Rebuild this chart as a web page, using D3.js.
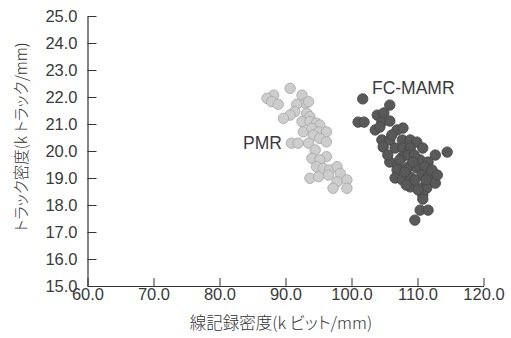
<!DOCTYPE html>
<html><head><meta charset="utf-8">
<script src="https://cdn.jsdelivr.net/npm/d3@7"></script>
<style>
html,body{margin:0;padding:0;background:#fff;}
svg text{fill:#333;}
.jp{font-family:"Noto Sans CJK JP",sans-serif;font-feature-settings:"palt";font-weight:300;}
.lat{font-family:"Liberation Sans",Arial,sans-serif;}
</style></head>
<body>
<svg id="chart" width="511" height="338"></svg>
<script>
// ---- data ----
const xTicks = [60, 70, 80, 90, 100, 110, 120];
const yTicks = [15, 16, 17, 18, 19, 20, 21, 22, 23, 24, 25];
const xTitle = "線記録密度(k ビット/mm)";
const yTitle = "トラック密度(k トラック/mm)";
const seriesNames = ["PMR", "FC-MAMR"];

const pmrX = [90.7, 88.2, 87.2, 87.9, 88.9, 92.5, 93.0, 93.5, 91.7, 91.4, 90.7, 89.7, 93.2, 93.7, 92.5, 93.7, 94.7, 95.2, 92.7, 94.0, 95.0, 96.2, 94.2, 95.2, 90.9, 91.9, 93.5, 96.2, 94.5, 96.2, 94.0, 95.2, 94.7, 95.7, 96.7, 97.8, 96.5, 98.3, 93.7, 95.0, 97.8, 99.3, 97.2, 99.3];
const pmrY = [22.32, 22.07, 21.95, 21.83, 21.73, 22.07, 21.77, 21.83, 21.73, 21.46, 21.33, 21.21, 21.40, 21.27, 21.09, 21.09, 21.03, 20.96, 20.71, 20.84, 20.71, 20.71, 20.59, 20.47, 20.29, 20.29, 20.29, 20.34, 20.04, 19.79, 19.73, 19.67, 19.42, 19.36, 19.30, 19.42, 19.11, 19.17, 18.99, 19.05, 18.86, 18.93, 18.62, 18.62];

const mamrX = [101.7, 101.0, 101.9, 105.8, 103.9, 104.9, 104.6, 105.8, 103.6, 104.3, 106.9, 107.8, 104.6, 105.8, 107.7, 108.9, 109.9, 104.8, 106.6, 107.8, 108.9, 110.8, 114.5, 107.7, 108.6, 112.7, 105.8, 107.0, 110.4, 111.6, 108.6, 109.9, 111.1, 106.9, 106.6, 107.7, 108.9, 110.7, 111.6, 112.7, 108.9, 110.7, 111.4, 110.8, 110.8, 110.4, 111.6, 109.6, 109.5, 109.6, 108.1, 112.2, 110.1, 107.3, 106.1, 105.5, 109.3, 111.3, 113.0, 108.3];
const mamrY = [21.93, 21.07, 21.07, 21.70, 21.33, 21.41, 21.07, 21.11, 20.78, 20.89, 20.78, 20.85, 20.41, 20.41, 20.41, 20.41, 20.33, 20.15, 20.11, 20.11, 20.11, 20.11, 19.96, 19.78, 19.85, 19.85, 19.59, 19.48, 19.67, 19.59, 19.41, 19.37, 19.41, 19.30, 19.00, 18.93, 19.04, 19.11, 19.04, 18.81, 18.67, 18.63, 18.63, 18.37, 18.22, 17.81, 17.81, 17.44, 19.85, 18.93, 19.22, 19.30, 18.56, 19.67, 20.59, 19.85, 19.59, 18.93, 19.11, 18.74];

const labelPos = [[83.56, 20.3], [103.1, 22.33]];

// ---- chart ----
const svg = d3.select("#chart");
const x = d3.scaleLinear().domain([60, 120]).range([87.5, 483.5]);
const y = d3.scaleLinear().domain([15, 25]).range([286, 16]);

const fmt = d3.format(".1f");

const gx = svg.append("g").attr("transform", `translate(0,${y(15)})`)
  .call(d3.axisBottom(x).tickValues(xTicks).tickFormat(fmt).tickSizeInner(-8).tickSizeOuter(0).tickPadding(2));
const gy = svg.append("g").attr("transform", `translate(${x(60)},0)`)
  .call(d3.axisLeft(y).tickValues(yTicks).tickFormat(fmt).tickSizeInner(-9).tickSizeOuter(0).tickPadding(10));

[gx, gy].forEach(g => {
  g.select(".domain").attr("stroke", "#333").attr("stroke-width", 1.2);
  g.selectAll(".tick line").attr("stroke", "#333").attr("stroke-width", 1);
  g.selectAll(".tick text").attr("font-size", 16.5).style("fill", "#3a3a3a")
    .attr("font-family", '"Liberation Sans", Arial, sans-serif');
});

const pmr = pmrX.map((v, i) => ({x: v, y: pmrY[i]}));
const mamr = mamrX.map((v, i) => ({x: v, y: mamrY[i]}));

svg.append("g").selectAll("circle").data(pmr).join("circle")
  .attr("cx", d => x(d.x)).attr("cy", d => y(d.y)).attr("r", 5.2)
  .attr("fill", "#cdcdcd").attr("stroke", "#a9a9a9").attr("stroke-width", 0.9);

svg.append("g").selectAll("circle").data(mamr).join("circle")
  .attr("cx", d => x(d.x)).attr("cy", d => y(d.y)).attr("r", 5.2)
  .attr("fill", "#595959").attr("stroke", "#484848").attr("stroke-width", 0.9);

seriesNames.forEach((n, i) => {
  svg.append("text").attr("class", "lat").attr("x", x(labelPos[i][0])).attr("y", y(labelPos[i][1]))
    .attr("dominant-baseline", "central").attr("font-size", 17.5).style("fill", "#3a3a3a").text(n);
});

svg.append("text").attr("class", "jp").attr("x", 281).attr("y", 322).attr("text-anchor", "middle")
  .attr("dominant-baseline", "central").attr("font-size", 16.5).text(xTitle);
svg.append("text").attr("class", "jp").attr("transform", "translate(20,137) rotate(-90)").attr("text-anchor", "middle")
  .attr("dominant-baseline", "central").attr("font-size", 15.5).text(yTitle);
</script>
</body></html>
